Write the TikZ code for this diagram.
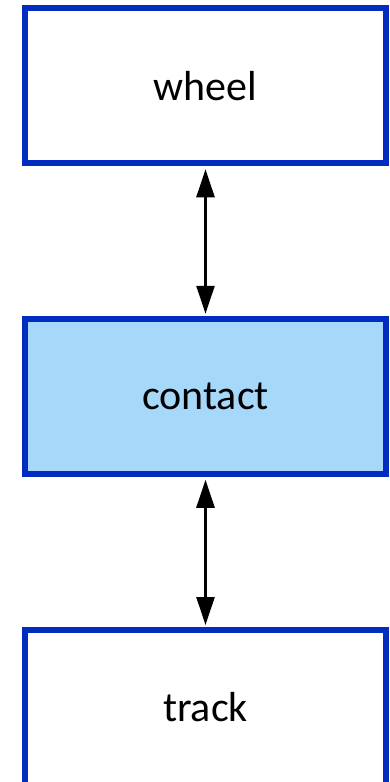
\documentclass[tikz,border=0pt]{standalone}
\usepackage{fontspec}
\setmainfont{Carlito}
\usetikzlibrary{arrows.meta}
\definecolor{boxblue}{RGB}{0,44,192}
\definecolor{boxfill}{RGB}{166,216,250}
\tikzset{
  blockbox/.style={draw=boxblue, line width=6pt, minimum width=361pt, minimum height=155pt, inner sep=0pt, font=\fontsize{42}{50}\selectfont, text=black},
  link/.style={line width=2.5pt, {Triangle[length=28pt,width=18pt]}-{Triangle[length=28pt,width=18pt]}, shorten <=3pt, shorten >=2pt}
}
\begin{document}
\begin{tikzpicture}[x=1pt,y=1pt]
\useasboundingbox (0,0) rectangle (389,-782);
\node[blockbox, fill=white] (wheel) at (205.5,-85.75) {wheel};
\node[blockbox, fill=boxfill] (contact) at (205.5,-396.25) {contact};
\node[blockbox, fill=white] (track) at (205.5,-707.5) {track};
\draw[link] (wheel.south) -- (contact.north);
\draw[link] (contact.south) -- (track.north);
\end{tikzpicture}
\end{document}
